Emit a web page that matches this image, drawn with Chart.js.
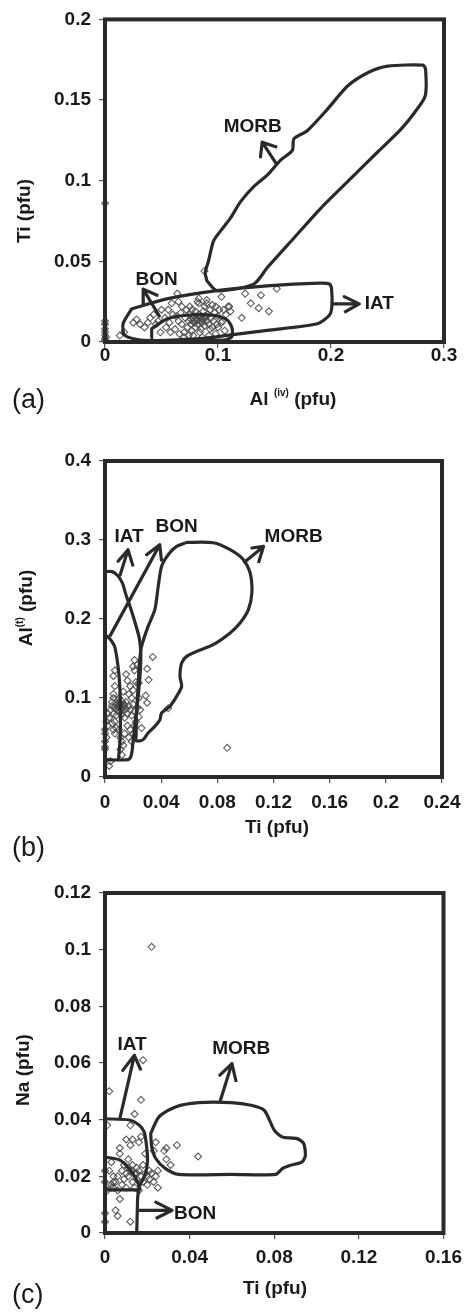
<!DOCTYPE html>
<html>
<head>
<meta charset="utf-8">
<script src="https://cdn.jsdelivr.net/npm/chart.js@4.4.1/dist/chart.umd.min.js"></script>
<style>
  html, body { margin: 0; padding: 0; background: #fff; }
  body { width: 469px; height: 1312px; position: relative; overflow: hidden; }
  canvas { position: absolute; left: 0; }
</style>
</head>
<body>
<canvas id="panelA" width="469" height="430" style="top:0px"></canvas>
<canvas id="panelB" width="469" height="440" style="top:430px"></canvas>
<canvas id="panelC" width="469" height="442" style="top:870px"></canvas>
<script>
// ---------- Panel (a): Ti vs Al(iv) ----------
const aXTicks = [0, 0.1, 0.2, 0.3];
const aYTicks = [0, 0.05, 0.1, 0.15, 0.2];
const aMorb = [[.0902,.0379],[.0887,.043],[.0916,.0502],[.096,.0625],[.102,.0686],[.111,.0768],[.12,.087],[.1316,.0963],[.1435,.1034],[.1554,.1127],[.1658,.1188],[.1672,.126],[.179,.131],[.1969,.1444],[.2147,.1587],[.2325,.1669],[.2502,.171],[.2814,.1716],[.2837,.169],[.2834,.1526],[.274,.1423],[.262,.132],[.2413,.1178],[.2176,.1014],[.1909,.0829],[.1672,.0645],[.1435,.046],[.1316,.0359],[.099,.0318],[.0902,.0379]];
const aIat = [[.0235,.0205],[.0546,.0267],[.099,.0318],[.1435,.0348],[.19,.0365],[.1985,.036],[.2005,.033],[.2007,.0215],[.1983,.0164],[.188,.0113],[.1435,.0072],[.108,.0041],[.0842,.0021],[.0338,.001],[.0175,.0041],[.016,.0113],[.0235,.0205]];
const aBon = [[.0413,.0082],[.0546,.0143],[.0724,.0166],[.096,.0166],[.108,.0138],[.1125,.0085],[.112,.0031],[.105,.0012],[.0427,.0008],[.0413,.0082]];
const aMorbArrow = [[.1524,.1096],[.1391,.1239],[.1376,.1147],[.1391,.1239],[.1524,.1208]];
const aBonArrow = [[.0486,.0154],[.0338,.0328],[.0338,.0236],[.0338,.0328],[.0471,.0287]];
const aIatArrow = [[.2,.0236],[.225,.0236],[.2117,.0281],[.225,.0236],[.2117,.0184]];
const aNames = ['MORB', 'BON', 'IAT'];
const aNameAt = [[.1307,.1337],[.0457,.0383],[.2428,.0236]];
const aSamples = [[0,.086],[0,.013],[0,.011],[0,.008],[0,.006],[0,.004],[0,.002],[0,.001],[.001,.003],
  [.013,.004],[.017,.006],[.025,.012],[.028,.014],[.031,.011],[.038,.012],[.043,.017],[.047,.013],[.049,.006],[.054,.009],
  [.056,.02],[.059,.024],[.064,.03],[.05,.02],[.045,.011],[.035,.009],[.04,.015],[.053,.015],[.057,.012],[.06,.017],
  [.062,.008],[.065,.013],[.067,.018],[.068,.011],[.07,.006],[.071,.015],[.072,.02],[.073,.009],[.074,.013],[.075,.017],
  [.076,.011],[.077,.007],[.078,.015],[.079,.012],[.08,.019],[.08,.009],[.081,.014],[.082,.011],[.083,.017],[.083,.024],
  [.084,.013],[.085,.008],[.085,.016],[.086,.012],[.087,.019],[.087,.014],[.088,.01],[.088,.022],[.089,.015],[.09,.013],
  [.09,.026],[.091,.017],[.092,.011],[.093,.02],[.094,.015],[.095,.009],[.095,.023],[.096,.013],[.097,.018],[.098,.022],
  [.099,.011],[.1,.016],[.101,.02],[.103,.028],[.104,.013],[.105,.02],[.106,.007],[.107,.017],[.109,.022],[.111,.019],
  [.103,.012],[.098,.005],[.092,.004],[.086,.003],[.078,.004],[.07,.003],[.066,.005],[.088,.044],[.121,.015],[.124,.03],
  [.129,.024],[.136,.021],[.138,.029],[.145,.019],[.152,.033],[.11,.022],[.082,.025],[.083,.027],[.09,.024],[.075,.022],
  [.068,.022],[.063,.016],[.058,.006],[.077,.02],[.093,.008],[.1,.009],[.084,.006],[.074,.004],[.065,.025],
  [.079,.016],[.081,.013],[.084,.015],[.086,.014],[.082,.016],[.078,.013],[.088,.016],[.076,.014]];

// ---------- Panel (b): Al(t) vs Ti ----------
const bXTicks = [0, 0.04, 0.08, 0.12, 0.16, 0.2, 0.24];
const bYTicks = [0, 0.1, 0.2, 0.3, 0.4];
const bMorb = [[.0581,.297],[.0771,.2965],[.0891,.2877],[.0986,.2751],[.1034,.2582],[.1046,.2329],[.1021,.2118],[.0962,.1949],[.0891,.1823],[.0771,.1675],[.0653,.159],[.0581,.1527],[.0546,.1443],[.0534,.1273],[.0546,.1147],[.051,.102],[.0462,.0894],[.0403,.081],[.0391,.0725],[.0355,.0641],[.0307,.0557],[.0271,.0472],[.0224,.0459],[.0222,.055],[.0224,.081],[.0236,.1147],[.0243,.14],[.026,.165],[.0307,.1907],[.0355,.2118],[.0379,.2413],[.0403,.2666],[.045,.2814],[.051,.2919],[.0581,.297]];
const bIat = [[0,.26],[.005,.26],[.009,.255],[.0125,.245],[.015,.23],[.018,.215],[.0215,.195],[.0245,.175],[.0255,.155],[.025,.13],[.0235,.1],[.0215,.07],[.02,.045],[.0188,.028],[.0165,.022],[0,.022]];
const bBon = [[0,.18],[.0034,.175],[.0069,.165],[.0093,.14],[.0105,.115],[.011,.08],[.0108,.05],[.01,.03],[.0095,.022]];
const bIatArrow = [[.0105,.254],[.0164,.2877],[.0093,.273],[.0164,.2877],[.02,.2666]];
const bBonArrow = [[.0034,.178],[.039,.294],[.0296,.2814],[.039,.294],[.0403,.273]];
const bMorbArrow = [[.0986,.2709],[.1129,.2919],[.1046,.2899],[.1129,.2919],[.1093,.2709]];
const bNames = ['IAT', 'BON', 'MORB'];
const bNameAt = [[.0171,.3046],[.051,.3172],[.1343,.3046]];
const bSamples = [[0,.035],[0,.045],[0,.055],[0,.06],[0,.038],[.001,.05],[.001,.07],[.002,.08],[.003,.014],[.004,.02],[.002,.065],
  [.003,.075],[.004,.085],[.005,.09],[.005,.095],[.006,.1],[.006,.08],[.007,.07],[.007,.088],[.008,.092],[.008,.078],
  [.009,.097],[.009,.085],[.01,.09],[.01,.082],[.01,.1],[.011,.087],[.011,.093],[.012,.079],[.012,.096],[.013,.088],
  [.013,.084],[.014,.091],[.014,.075],[.015,.086],[.015,.095],[.016,.08],[.017,.09],[.018,.085],[.019,.078],[.02,.092],
  [.021,.083],[.022,.07],[.023,.088],[.024,.076],[.025,.085],[.026,.062],
  [.005,.068],[.006,.06],[.007,.055],[.008,.062],[.01,.06],[.011,.05],[.012,.045],[.011,.035],[.012,.028],[.013,.04],
  [.014,.055],[.016,.065],[.018,.06],[.02,.055],[.019,.045],[.021,.065],[.017,.05],
  [.006,.128],[.007,.135],[.007,.115],[.006,.105],[.015,.13],[.016,.122],[.018,.115],[.02,.11],[.021,.135],[.021,.148],
  [.023,.142],[.022,.12],[.024,.119],[.024,.1],[.019,.1],[.017,.105],[.034,.152],[.03,.137],[.031,.123],[.029,.103],
  [.03,.094],[.045,.087],[.087,.037],[.02,.14],[.013,.108],
  [.009,.089],[.011,.091],[.012,.086],[.010,.094],[.013,.092],[.008,.086]];

// ---------- Panel (c): Na vs Ti ----------
const cXTicks = [0, 0.04, 0.08, 0.12, 0.16];
const cYTicks = [0, 0.02, 0.04, 0.06, 0.08, 0.1, 0.12];
const cMorb = [[.0216,.0351],[.0255,.041],[.0333,.0445],[.0442,.046],[.0597,.046],[.069,.0451],[.0753,.0433],[.08,.0363],[.0838,.0339],[.0908,.0333],[.0939,.0316],[.0947,.0274],[.0932,.0251],[.0877,.0239],[.0838,.0227],[.0807,.0207],[.0597,.0207],[.0348,.0207],[.0286,.0227],[.024,.0263],[.0221,.0304],[.0216,.0351]];
const cIat = [[0,.0403],[.0115,.0399],[.0162,.038],[.0185,.0357],[.0195,.0316],[.0201,.0257],[.0193,.0215],[.0177,.0186],[.0162,.0162],[.0155,.013],[.0152,.006],[.015,0]];
const cBon = [[0,.0268],[.0069,.0258],[.01,.0239],[.0131,.021],[.0154,.018],[.0165,.0155]];
const cBonBase = [[0,.0152],[.016,.0152]];
const cIatArrow = [[.0069,.04],[.0139,.0627],[.0084,.0574],[.0139,.0627],[.017,.0574]];
const cMorbArrow = [[.0543,.0462],[.06,.0598],[.0543,.0557],[.06,.0598],[.062,.0533]];
const cBonArrow = [[.0159,.008],[.0317,.008],[.024,.0109],[.0317,.008],[.024,.0051]];
const cNames = ['IAT', 'MORB', 'BON'];
const cNameAt = [[.0128,.0666],[.0644,.0651],[.0426,.0068]];
const cSamples = [[0,.004],[0,.007],[0,.018],[0,.022],[.001,.038],[.001,.015],[.002,.05],[.002,.022],[.003,.017],[.004,.016],
  [.005,.018],[.005,.008],[.006,.006],[.007,.012],[.006,.02],[.007,.03],[.007,.028],[.008,.022],[.008,.017],[.009,.024],
  [.009,.019],[.01,.021],[.01,.016],[.011,.023],[.011,.02],[.012,.031],[.012,.038],[.012,.022],[.012,.004],[.013,.033],
  [.013,.018],[.013,.024],[.014,.021],[.014,.016],[.014,.042],[.015,.023],[.015,.019],[.016,.022],[.016,.032],[.017,.02],
  [.017,.047],[.017,.034],[.018,.061],[.018,.024],[.018,.018],[.019,.021],[.019,.028],[.02,.02],[.02,.017],[.021,.022],
  [.021,.019],[.022,.021],[.022,.101],[.023,.018],[.023,.029],[.024,.032],[.024,.02],[.025,.016],[.025,.022],[.028,.029],
  [.029,.03],[.029,.026],[.031,.024],[.034,.031],[.044,.027],[.01,.033],[.011,.026],[.003,.025],[.004,.02],[.016,.015],[.006,.015],
  [.003,.016],[.004,.018],[.013,.022],[.015,.021]];

// ---------- drawing ----------
const FONT = "'Liberation Sans', Arial, Helvetica, sans-serif";
const LINE = '#2a2a2a';
const INK = '#1a1a1a';

const toXY = pts => pts.map(p => ({ x: p[0], y: p[1] }));
const fmt = v => String(Number(Number(v).toFixed(4)));

function drawRich(ctx, parts, cx, cy, rotate) {
  ctx.save();
  ctx.translate(cx, cy);
  if (rotate) ctx.rotate(-Math.PI / 2);
  ctx.textBaseline = 'middle';
  ctx.textAlign = 'left';
  let total = 0;
  const widths = parts.map(p => {
    ctx.font = `bold ${p.size}px ${FONT}`;
    const w = ctx.measureText(p.text).width;
    total += w;
    return w;
  });
  let x = -total / 2;
  parts.forEach((p, i) => {
    ctx.font = `bold ${p.size}px ${FONT}`;
    ctx.fillText(p.text, x, -(p.rise || 0));
    x += widths[i];
  });
  ctx.restore();
}

function overlayPlugin(cfg) {
  return {
    id: 'overlay',
    afterDraw(chart) {
      const ctx = chart.ctx;
      const a = chart.chartArea;
      const sx = chart.scales.x, sy = chart.scales.y;
      ctx.save();
      // box frame
      ctx.strokeStyle = LINE;
      ctx.lineWidth = 4;
      ctx.strokeRect(a.left, a.top, a.right - a.left, a.bottom - a.top);
      // field names
      ctx.fillStyle = INK;
      ctx.textAlign = 'center';
      ctx.textBaseline = 'middle';
      ctx.font = `bold 19px ${FONT}`;
      cfg.names.forEach((n, i) => {
        ctx.fillText(n, sx.getPixelForValue(cfg.nameAt[i][0]), sy.getPixelForValue(cfg.nameAt[i][1]));
      });
      // axis titles
      drawRich(ctx, cfg.xTitle, cfg.xTitlePos[0], cfg.xTitlePos[1], false);
      drawRich(ctx, cfg.yTitle, cfg.yTitlePos[0], cfg.yTitlePos[1], true);
      // panel letter
      ctx.textAlign = 'left';
      ctx.textBaseline = 'middle';
      ctx.font = `27px ${FONT}`;
      ctx.fillText(cfg.letter, cfg.letterPos[0], cfg.letterPos[1]);
      ctx.restore();
    }
  };
}

function axis(ticks, min, max, fit, pad) {
  return {
    type: 'linear',
    min: min,
    max: max,
    afterBuildTicks: s => { s.ticks = ticks.map(v => ({ value: v })); },
    afterFit: fit,
    ticks: {
      callback: v => fmt(v),
      font: { family: FONT, size: 19, weight: 'bold' },
      color: INK,
      padding: pad,
      maxRotation: 0,
      autoSkip: false
    },
    grid: { display: true, drawOnChartArea: false, drawTicks: true, tickLength: 6, color: '#555', lineWidth: 1.2 },
    border: { display: true, color: LINE, width: 3 }
  };
}

function makePanel(id, cfg) {
  const outline = pts => ({
    data: toXY(pts), showLine: true, pointRadius: 0, borderColor: LINE, borderWidth: 3.2,
    tension: 0.25, fill: false, order: 1, clip: false, borderCapStyle: 'round', borderJoinStyle: 'round'
  });
  const arrow = pts => ({
    data: toXY(pts), showLine: true, pointRadius: 0, borderColor: LINE, borderWidth: 3.2,
    tension: 0, fill: false, order: 1, clip: false, borderCapStyle: 'butt', borderJoinStyle: 'round'
  });
  const datasets = cfg.shapes.map(outline).concat(cfg.arrows.map(arrow));
  datasets.push({
    data: toXY(cfg.samples), showLine: false, pointStyle: 'rectRot', pointRadius: 3.5,
    borderColor: 'rgba(75,75,75,0.9)', borderWidth: 1.1, backgroundColor: 'rgba(255,255,255,0)',
    order: 2, clip: false
  });
  return new Chart(document.getElementById(id), {
    type: 'scatter',
    data: { datasets: datasets },
    options: {
      responsive: false,
      animation: false,
      devicePixelRatio: 1,
      events: [],
      layout: { padding: { left: 0, top: cfg.top, right: cfg.right, bottom: 0 } },
      plugins: { legend: { display: false }, tooltip: { enabled: false } },
      scales: {
        x: axis(cfg.xTicks, cfg.xTicks[0], cfg.xTicks[cfg.xTicks.length - 1], s => { s.height = cfg.xHeight; }, cfg.xPad),
        y: axis(cfg.yTicks, cfg.yTicks[0], cfg.yTicks[cfg.yTicks.length - 1], s => { s.width = 105; }, 8)
      }
    },
    plugins: [overlayPlugin(cfg)]
  });
}

makePanel('panelA', {
  xTicks: aXTicks, yTicks: aYTicks,
  shapes: [aMorb, aIat, aBon], arrows: [aMorbArrow, aBonArrow, aIatArrow],
  samples: aSamples, names: aNames, nameAt: aNameAt,
  top: 16, right: 25, xHeight: 88, xPad: -4,
  xTitle: [{ text: 'Al ', size: 19 }, { text: '(iv)', size: 10, rise: 7 }, { text: ' (pfu)', size: 19 }],
  xTitlePos: [293, 400],
  yTitle: [{ text: 'Ti (pfu)', size: 19 }],
  yTitlePos: [25, 211],
  letter: '(a)', letterPos: [12, 401]
});

makePanel('panelB', {
  xTicks: bXTicks, yTicks: bYTicks,
  shapes: [bMorb, bIat, bBon], arrows: [bIatArrow, bBonArrow, bMorbArrow],
  samples: bSamples, names: bNames, nameAt: bNameAt,
  top: 31, right: 27, xHeight: 93, xPad: 8,
  xTitle: [{ text: 'Ti (pfu)', size: 19 }],
  xTitlePos: [277, 398],
  yTitle: [{ text: 'Al', size: 19 }, { text: '(t)', size: 10, rise: 7 }, { text: ' (pfu)', size: 19 }],
  yTitlePos: [27, 178],
  letter: '(b)', letterPos: [12, 419]
});

makePanel('panelC', {
  xTicks: cXTicks, yTicks: cYTicks,
  shapes: [cMorb, cIat, cBon, cBonBase], arrows: [cIatArrow, cMorbArrow, cBonArrow],
  samples: cSamples, names: cNames, nameAt: cNameAt,
  top: 23, right: 21, xHeight: 79, xPad: 7,
  xTitle: [{ text: 'Ti (pfu)', size: 19 }],
  xTitlePos: [275, 419],
  yTitle: [{ text: 'Na (pfu)', size: 19 }],
  yTitlePos: [24, 200],
  letter: '(c)', letterPos: [12, 426]
});
</script>
</body>
</html>
